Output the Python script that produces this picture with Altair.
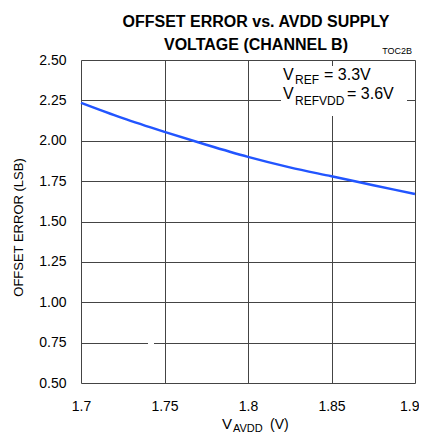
import altair as alt
import pandas as pd

# data
vavdd = [1.70, 1.725, 1.75, 1.775, 1.80, 1.825, 1.85, 1.875, 1.90]
offset_err = [2.235, 2.14, 2.055, 1.975, 1.90, 1.835, 1.78, 1.725, 1.67]
x_ticks = [1.7, 1.75, 1.8, 1.85, 1.9]
y_ticks = [0.50, 0.75, 1.00, 1.25, 1.50, 1.75, 2.00, 2.25, 2.50]

df = pd.DataFrame({"v": vavdd, "e": offset_err})

FONT = "Liberation Sans"
W, H = 334, 323

base = alt.Chart(df)

curve = base.mark_line(color="#2255ff", strokeWidth=2.5, interpolate="monotone").encode(
    x=alt.X("v:Q", scale=alt.Scale(domain=[1.7, 1.9], nice=False, zero=False),
            axis=alt.Axis(values=x_ticks, title=None,
                          labelExpr="datum.value == 1.7 || datum.value == 1.8 || datum.value == 1.9 ? format(datum.value, '.1f') : format(datum.value, '.2f')",
                          labelAlign={"expr": "datum.value > 1.89 ? 'right' : 'center'"},
                          labelOffset={"expr": "datum.value > 1.89 ? 4 : 0"},
                          ticks=False, domain=False, grid=True, gridColor="#444", gridWidth=1,
                          labelFont=FONT, labelFontSize=14, labelColor="black", labelPadding=16,
                          labelFlush=False, labelOverlap=False)),
    y=alt.Y("e:Q", scale=alt.Scale(domain=[0.5, 2.5], nice=False, zero=False),
            axis=alt.Axis(values=y_ticks, format=".2f", title="OFFSET ERROR (LSB)",
                          ticks=False, domain=False, grid=True, gridColor="#444", gridWidth=1,
                          labelFont=FONT, labelFontSize=14, labelColor="black", labelPadding=15,
                          labelFlush=False, labelOverlap=False,
                          titleFont=FONT, titleFontSize=13, titleFontWeight="normal",
                          titleColor="black", titlePadding=13, titleY=167)),
)

# white box behind the annotation, and the small break in the 0.75 grid line
box = base.mark_rect(color="white").encode(
    x=alt.value(200), x2=alt.value(326), y=alt.value(6), y2=alt.value(56)
)
gap = base.mark_rect(color="white").encode(
    x=alt.value(67), x2=alt.value(73), y=alt.value(281), y2=alt.value(285)
)

def txt(s, x, y, size, align="left", weight="normal"):
    return alt.Chart(pd.DataFrame({"t": [s]})).mark_text(
        font=FONT, fontSize=size, align=align, baseline="alphabetic",
        color="black", fontWeight=weight
    ).encode(text="t:N", x=alt.value(x), y=alt.value(y))

ann = [
    txt("V", 202, 20, 16),
    txt("REF", 214, 24, 12),
    txt("= 3.3V", 243, 20, 16),
    txt("V", 202, 39, 16),
    txt("REFVDD", 214, 45, 12),
    txt("= 3.6V", 266, 39, 16),
    txt("TOC2B", 331, -6, 9, align="right"),
    txt("V", 141, 369, 15),
    txt("AVDD", 152, 372, 11),
    txt("(V)", 189, 369, 14),
]

chart = alt.layer(box, gap, curve, *ann).properties(
    width=W, height=H,
    title=alt.TitleParams(["OFFSET ERROR vs. AVDD SUPPLY", "VOLTAGE (CHANNEL B)"],
                          font=FONT, fontSize=16, fontWeight="bold", color="black",
                          lineHeight=23, anchor="middle", dx=8, offset=-6),
    padding={"left": 73, "top": 52, "right": 4, "bottom": 52},
    autosize=alt.AutoSizeParams(type="none"),
).configure_view(stroke="black", strokeWidth=3).configure(background="white")

chart.save("out.html", embed_options={"renderer": "svg", "actions": False})
